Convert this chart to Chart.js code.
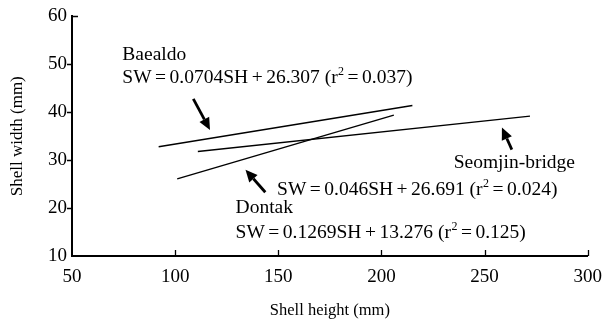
<!DOCTYPE html>
<html>
<head>
<meta charset="utf-8">
<script src="https://cdn.jsdelivr.net/npm/chart.js@4/dist/chart.umd.min.js"></script>
<style>
  html, body { margin: 0; padding: 0; background: #fff; }
  #wrap { width: 612px; height: 322px; }
</style>
</head>
<body>
<div id="wrap"><canvas id="c"></canvas></div>
<script>
// Axis ticks
const xTicks = [50, 100, 150, 200, 250, 300];
const yTicks = [10, 20, 30, 40, 50, 60];

// Regression lines (shell height -> shell width), endpoints over each site's observed range
const baealdoX = [92, 215];
const baealdoY = [32.8, 41.4];
const seomjinX = [111, 272];
const seomjinY = [31.8, 39.2];
const dontakX = [101, 206];
const dontakY = [26.1, 39.4];

// Labels and equations
const siteNames = ['Baealdo', 'Seomjin-bridge', 'Dontak'];
const equations = [
  'SW=0.0704SH+26.307 (r^2=0.037)',
  'SW=0.046SH+26.691 (r^2=0.024)',
  'SW=0.1269SH+13.276 (r^2=0.125)'
];

// Label anchors (data units: left edge, baseline)
const nameAnchors = [[74.4, 50.9], [235.0, 28.3], [129.3, 18.9]];
const eqAnchors = [[74.4, 46.1], [149.4, 22.7], [129.3, 13.7]];

// Pointer arrows (data units: tail -> head)
const arrows = [
  [[108.8, 42.8], [116.9, 36.3]],
  [[263.2, 32.2], [258.4, 36.8]],
  [[143.7, 23.3], [134.1, 28.0]]
];

const SERIF = '"Liberation Serif", "Times New Roman", serif';

function pts(xs, ys) { return xs.map((x, i) => ({ x: x, y: ys[i] })); }

function lineSet(label, xs, ys) {
  return {
    label: label,
    data: pts(xs, ys),
    showLine: true,
    borderColor: '#000',
    borderWidth: 1.4,
    pointRadius: 0,
    fill: false
  };
}

// Draw an equation string; '^' raises the next character, '=' and '+' get math spacing
function drawEquation(ctx, text, x, y, size) {
  const gap = 3.5;
  const normal = size + 'px ' + SERIF;
  const small = Math.round(size * 0.62) + 'px ' + SERIF;
  let cx = x;
  let buf = '';
  const flush = () => {
    if (!buf) return;
    ctx.font = normal;
    ctx.fillText(buf, cx, y);
    cx += ctx.measureText(buf).width;
    buf = '';
  };
  for (let i = 0; i < text.length; i++) {
    const ch = text[i];
    if (ch === '^') {
      flush();
      const s = text[++i];
      ctx.font = small;
      ctx.fillText(s, cx + 0.5, y - size * 0.4);
      cx += ctx.measureText(s).width + 0.5;
    } else if (ch === '=' || ch === '+') {
      flush();
      ctx.font = normal;
      cx += gap;
      ctx.fillText(ch, cx, y);
      cx += ctx.measureText(ch).width + gap;
    } else {
      buf += ch;
    }
  }
  flush();
}

function drawArrow(ctx, x0, y0, x1, y1) {
  const ang = Math.atan2(y1 - y0, x1 - x0);
  const headLen = 12, headHalf = 5.5;
  const bx = x1 - headLen * Math.cos(ang);
  const by = y1 - headLen * Math.sin(ang);
  ctx.beginPath();
  ctx.moveTo(x0, y0);
  ctx.lineTo(bx, by);
  ctx.lineWidth = 2.8;
  ctx.stroke();
  ctx.beginPath();
  ctx.moveTo(x1, y1);
  ctx.lineTo(bx + headHalf * Math.sin(ang), by - headHalf * Math.cos(ang));
  ctx.lineTo(bx - headHalf * Math.sin(ang), by + headHalf * Math.cos(ang));
  ctx.closePath();
  ctx.fill();
}

const annotations = {
  id: 'annotations',
  afterDraw(chart) {
    const { ctx, scales: { x, y }, chartArea: a } = chart;
    ctx.save();
    ctx.strokeStyle = '#000';
    ctx.fillStyle = '#000';
    ctx.lineCap = 'butt';

    // tick marks: y ticks outward (top one inward), x ticks inward
    ctx.lineWidth = 1.3;
    ctx.beginPath();
    yTicks.forEach(v => {
      if (v === yTicks[0]) return;
      const py = Math.round(y.getPixelForValue(v)) + 0.5;
      if (v === yTicks[yTicks.length - 1]) {
        ctx.moveTo(a.left, py); ctx.lineTo(a.left + 6, py);
      } else {
        ctx.moveTo(a.left - 5, py); ctx.lineTo(a.left, py);
      }
    });
    xTicks.forEach(v => {
      if (v === xTicks[0]) return;
      const px = Math.round(x.getPixelForValue(v)) + 0.5;
      ctx.moveTo(px, a.bottom); ctx.lineTo(px, a.bottom - 6);
    });
    ctx.stroke();

    // arrows
    arrows.forEach(([t, h]) => {
      drawArrow(ctx, x.getPixelForValue(t[0]), y.getPixelForValue(t[1]),
                x.getPixelForValue(h[0]), y.getPixelForValue(h[1]));
    });

    // site names and fitted equations
    ctx.textBaseline = 'alphabetic';
    ctx.textAlign = 'left';
    const fs = 19.5;
    siteNames.forEach((n, i) => {
      ctx.font = fs + 'px ' + SERIF;
      ctx.fillText(n, x.getPixelForValue(nameAnchors[i][0]), y.getPixelForValue(nameAnchors[i][1]));
      drawEquation(ctx, equations[i], x.getPixelForValue(eqAnchors[i][0]), y.getPixelForValue(eqAnchors[i][1]), fs);
    });
    ctx.restore();
  }
};

new Chart(document.getElementById('c'), {
  type: 'scatter',
  data: {
    datasets: [
      lineSet('Baealdo', baealdoX, baealdoY),
      lineSet('Seomjin-bridge', seomjinX, seomjinY),
      lineSet('Dontak', dontakX, dontakY)
    ]
  },
  options: {
    responsive: true,
    maintainAspectRatio: false,
    animation: false,
    events: [],
    layout: { padding: { top: 15, right: 17, left: 0, bottom: 0 } },
    plugins: { legend: { display: false }, tooltip: { enabled: false } },
    scales: {
      x: {
        type: 'linear',
        min: xTicks[0],
        max: xTicks[xTicks.length - 1],
        afterBuildTicks: s => { s.ticks = xTicks.map(v => ({ value: v })); },
        afterFit: s => { s.height = 66; },
        grid: { display: false, drawTicks: false },
        border: { display: true, color: '#000', width: 2 },
        ticks: { color: '#000', padding: 10, maxRotation: 0, font: { family: SERIF, size: 19 } },
        title: {
          display: true, text: 'Shell height (mm)', color: '#000',
          font: { family: SERIF, size: 16.5 }, padding: { top: 0, bottom: 1 }
        }
      },
      y: {
        type: 'linear',
        min: yTicks[0],
        max: yTicks[yTicks.length - 1],
        afterBuildTicks: s => { s.ticks = yTicks.map(v => ({ value: v })); },
        afterFit: s => { s.width = 72; },
        grid: { display: false, drawTicks: false },
        border: { display: true, color: '#000', width: 2 },
        ticks: { color: '#000', padding: 5, font: { family: SERIF, size: 19 } },
        title: {
          display: true, text: 'Shell width (mm)', color: '#000',
          font: { family: SERIF, size: 17 }, padding: { top: 7, bottom: 0 }
        }
      }
    }
  },
  plugins: [annotations]
});
</script>
</body>
</html>
